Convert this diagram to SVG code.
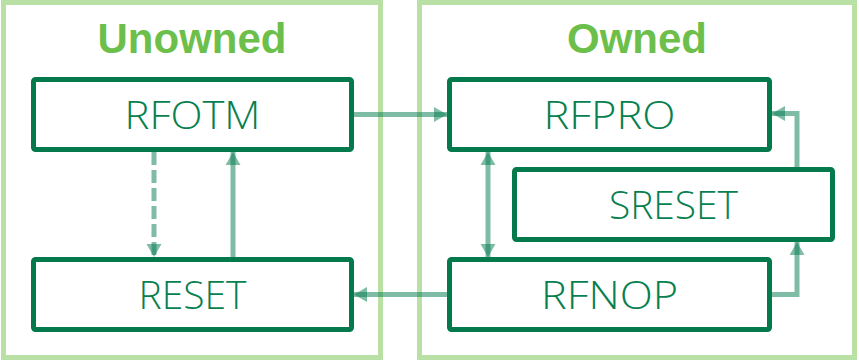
<svg xmlns="http://www.w3.org/2000/svg" width="859" height="361" viewBox="0 0 859 361">
<style>
.cont{fill:#ffffff;stroke:#b9e0a5;stroke-width:5}
.title{font-family:"Liberation Sans",Arial,sans-serif;font-weight:bold;font-size:42px;fill:#6cbf4a;text-anchor:middle}
.box{fill:#ffffff;stroke:#047a4c;stroke-width:5}
.lbl{font-family:"Open Sans","Liberation Sans",Arial,sans-serif;font-weight:300;font-size:39px;fill:#087f4f;text-anchor:middle}
.con{fill:none;stroke:#007a4d;stroke-opacity:0.5;stroke-width:5}
</style>
<defs>
<marker id="ah" markerUnits="userSpaceOnUse" markerWidth="14" markerHeight="16" refX="13" refY="7.5" orient="auto" viewBox="0 0 14 16">
<path d="M0,0 L13,7.5 L0,15 z" fill="#007a4d" fill-opacity="0.5"/>
</marker>
<marker id="as" markerUnits="userSpaceOnUse" markerWidth="14" markerHeight="16" refX="0" refY="7.5" orient="auto" viewBox="0 0 14 16">
<path d="M13,0 L0,7.5 L13,15 z" fill="#007a4d" fill-opacity="0.5"/>
</marker>
</defs>
<g id="unowned">
<rect class="cont" x="3.5" y="2.5" width="377" height="355"/>
<text class="title" x="192" y="53">Unowned</text>
</g>
<g id="owned">
<rect class="cont" x="419.5" y="2.5" width="435" height="355"/>
<text class="title" x="637" y="53">Owned</text>
</g>
<g id="connectors">
<line class="con" x1="354" y1="114.5" x2="447" y2="114.5" marker-end="url(#ah)"/>
<line class="con" x1="154" y1="152" x2="154" y2="257" stroke-dasharray="13 5" marker-end="url(#ah)"/>
<line class="con" x1="233" y1="257" x2="233" y2="152" marker-end="url(#ah)"/>
<line class="con" x1="447" y1="294.5" x2="354" y2="294.5" marker-end="url(#ah)"/>
<line class="con" x1="488" y1="152" x2="488" y2="257" marker-start="url(#as)" marker-end="url(#ah)"/>
<polyline class="con" points="772,294.5 797,294.5 797,242" marker-end="url(#ah)"/>
<polyline class="con" points="797,167 797,113.5 772,113.5" marker-end="url(#ah)"/>
</g>
<g id="RFOTM">
<rect class="box" x="33.5" y="79.5" width="318" height="70" rx="2"/>
<text class="lbl" x="192.5" y="129" textLength="136" lengthAdjust="spacingAndGlyphs">RFOTM</text>
</g>
<g id="RESET">
<rect class="box" x="33.5" y="259.5" width="318" height="70" rx="2"/>
<text class="lbl" x="192.5" y="309" textLength="108" lengthAdjust="spacingAndGlyphs">RESET</text>
</g>
<g id="RFPRO">
<rect class="box" x="449.5" y="79.5" width="320" height="70" rx="2"/>
<text class="lbl" x="609.5" y="129" textLength="132" lengthAdjust="spacingAndGlyphs">RFPRO</text>
</g>
<g id="SRESET">
<rect class="box" x="514.5" y="169.5" width="318" height="70" rx="2"/>
<text class="lbl" x="673.5" y="219" textLength="129" lengthAdjust="spacingAndGlyphs">SRESET</text>
</g>
<g id="RFNOP">
<rect class="box" x="449.5" y="259.5" width="320" height="70" rx="2"/>
<text class="lbl" x="609.5" y="309" textLength="137" lengthAdjust="spacingAndGlyphs">RFNOP</text>
</g>
</svg>
